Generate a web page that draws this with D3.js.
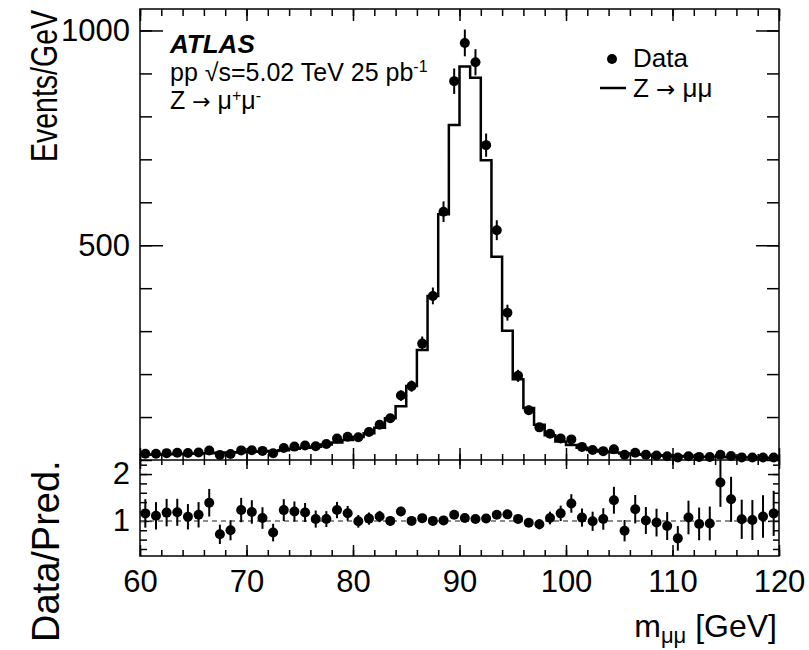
<!DOCTYPE html>
<html>
<head>
<meta charset="utf-8">
<script src="https://cdn.jsdelivr.net/npm/d3@7"></script>
<style>
  body { margin: 0; background: #fff; }
  svg text { font-family: "Liberation Sans", Arial, Helvetica, sans-serif; fill: #000; }
</style>
</head>
<body>
<svg width="809" height="650"></svg>
<script>
// bin centres of the 1 GeV mass bins
const binCenters = [
  60.5, 61.5, 62.5, 63.5, 64.5, 65.5, 66.5, 67.5, 68.5, 69.5,
  70.5, 71.5, 72.5, 73.5, 74.5, 75.5, 76.5, 77.5, 78.5, 79.5,
  80.5, 81.5, 82.5, 83.5, 84.5, 85.5, 86.5, 87.5, 88.5, 89.5,
  90.5, 91.5, 92.5, 93.5, 94.5, 95.5, 96.5, 97.5, 98.5, 99.5,
  100.5, 101.5, 102.5, 103.5, 104.5, 105.5, 106.5, 107.5, 108.5, 109.5,
  110.5, 111.5, 112.5, 113.5, 114.5, 115.5, 116.5, 117.5, 118.5, 119.5
];

// observed events / GeV
const dataValues = [
  14.5, 14.4, 16.0, 16.8, 16.1, 17.4, 22.2, 11.9, 13.9, 22.4,
  22.6, 21.2, 15.9, 27.8, 31.2, 33.6, 32.2, 37.4, 50, 54,
  53, 65, 82, 97, 150, 172, 271, 382, 578, 882,
  971, 926, 733, 535, 343, 196, 116, 76, 61, 49.9,
  48, 30.5, 23.3, 20.6, 25.2, 12.1, 17, 12.3, 10.6, 8.9,
  5.7, 8.9, 7.2, 6.8, 12.2, 9.2, 6.1, 5.7, 5.8, 5.8
];

// Z -> mumu prediction, events / GeV
const predValues = [
  12.5, 13.0, 13.6, 14.2, 14.8, 15.4, 16.0, 16.7, 17.4, 18.2,
  19.0, 20.0, 21.2, 22.6, 26, 28.5, 31, 36, 40.6, 46.5,
  53.5, 62, 75, 97, 125, 172, 256, 382, 572, 780,
  916, 890, 698, 473, 301, 188, 121, 82, 57.5, 43,
  35, 28.5, 23.5, 19.8, 17.5, 15.3, 13.6, 12.2, 11, 10,
  9.1, 8.3, 7.7, 7.2, 6.7, 6.3, 5.9, 5.6, 5.3, 5.0
];

const xMajorTicks = [60, 70, 80, 90, 100, 110, 120];
const yMainMajorTicks = [500, 1000];
const yRatioMajorTicks = [1, 2];

const svg = d3.select('svg');

const frame = { left: 140, right: 779, top: 9, split: 460, bottom: 556 };
const binWidth = 1;
const arrowFont = '"DejaVu Sans", sans-serif';

const bins = binCenters.map((c, i) => ({
  x: c,
  lo: c - binWidth / 2,
  hi: c + binWidth / 2,
  data: dataValues[i],
  pred: predValues[i],
  err: Math.sqrt(dataValues[i]),
  ratio: dataValues[i] / predValues[i],
  ratioErr: Math.sqrt(dataValues[i]) / predValues[i]
}));

const xScale = d3.scaleLinear().domain([60, 120]).range([frame.left, frame.right]);
const yMain = d3.scaleLinear().domain([0, 1050]).range([frame.split, frame.top]);
const yRatio = d3.scaleLinear().domain([0.25, 2.3]).range([frame.bottom, frame.split]);

const minorX = d3.range(60, 120.01, 2);
const minorYMain = d3.range(0, 1050, 100);
const minorYRatio = d3.range(0.4, 2.3, 0.2);

// clip paths
const defs = svg.append('defs');
defs.append('clipPath').attr('id', 'clipMain').append('rect')
  .attr('x', frame.left).attr('y', frame.top)
  .attr('width', frame.right - frame.left).attr('height', frame.split - frame.top);
defs.append('clipPath').attr('id', 'clipRatio').append('rect')
  .attr('x', frame.left).attr('y', frame.split)
  .attr('width', frame.right - frame.left).attr('height', frame.bottom - frame.split);

const tickStyle = g => {
  g.select('.domain').remove();
  g.selectAll('.tick line').attr('stroke', '#000').attr('stroke-width', 1.5);
  g.selectAll('.tick text').style('font-size', '31px').attr('fill', '#000');
};

const addAxis = (axis, tx, ty) => svg.append('g')
  .attr('transform', `translate(${tx},${ty})`)
  .call(axis)
  .call(tickStyle);

// ---- axes: main panel ----
addAxis(d3.axisLeft(yMain).tickValues(minorYMain).tickSize(-12).tickFormat(''), frame.left, 0);
addAxis(d3.axisLeft(yMain).tickValues(yMainMajorTicks).tickSizeInner(-23).tickSizeOuter(0)
  .tickPadding(10).tickFormat(d3.format('d')), frame.left, 0);
addAxis(d3.axisRight(yMain).tickValues(minorYMain).tickSize(-12).tickFormat(''), frame.right, 0);
addAxis(d3.axisRight(yMain).tickValues(yMainMajorTicks).tickSize(-23).tickFormat(''), frame.right, 0);
addAxis(d3.axisTop(xScale).tickValues(minorX).tickSize(-7).tickFormat(''), 0, frame.top);
addAxis(d3.axisTop(xScale).tickValues(xMajorTicks).tickSize(-12).tickFormat(''), 0, frame.top);
addAxis(d3.axisBottom(xScale).tickValues(minorX).tickSize(-6).tickFormat(''), 0, frame.split);
addAxis(d3.axisBottom(xScale).tickValues(xMajorTicks).tickSize(-12).tickFormat(''), 0, frame.split);

// ---- axes: ratio panel ----
addAxis(d3.axisTop(xScale).tickValues(minorX).tickSize(-5).tickFormat(''), 0, frame.split);
addAxis(d3.axisTop(xScale).tickValues(xMajorTicks).tickSize(-9).tickFormat(''), 0, frame.split);
addAxis(d3.axisBottom(xScale).tickValues(minorX).tickSize(-6).tickFormat(''), 0, frame.bottom);
addAxis(d3.axisBottom(xScale).tickValues(xMajorTicks).tickSizeInner(-11).tickSizeOuter(0)
  .tickPadding(14).tickFormat(d3.format('d')), 0, frame.bottom);
addAxis(d3.axisLeft(yRatio).tickValues(minorYRatio).tickSize(-7).tickFormat(''), frame.left, 0);
addAxis(d3.axisLeft(yRatio).tickValues(yRatioMajorTicks).tickSizeInner(-12).tickSizeOuter(0)
  .tickPadding(10).tickFormat(d3.format('d')), frame.left, 0);
addAxis(d3.axisRight(yRatio).tickValues(minorYRatio).tickSize(-6).tickFormat(''), frame.right, 0);
addAxis(d3.axisRight(yRatio).tickValues(yRatioMajorTicks).tickSize(-11).tickFormat(''), frame.right, 0);

// ---- main panel content ----
const mainG = svg.append('g').attr('clip-path', 'url(#clipMain)');

const stepPoints = bins.map(b => [b.lo, b.pred]).concat([[bins[bins.length - 1].hi, bins[bins.length - 1].pred]]);
const stepLine = d3.line()
  .x(d => xScale(d[0]))
  .y(d => yMain(d[1]))
  .curve(d3.curveStepAfter);

mainG.append('path')
  .attr('d', stepLine(stepPoints))
  .attr('fill', 'none')
  .attr('stroke', '#000')
  .attr('stroke-width', 2.5);

mainG.selectAll('line.err').data(bins).join('line')
  .attr('class', 'err')
  .attr('x1', d => xScale(d.x)).attr('x2', d => xScale(d.x))
  .attr('y1', d => yMain(d.data - d.err)).attr('y2', d => yMain(d.data + d.err))
  .attr('stroke', '#000').attr('stroke-width', 2);

svg.append('g').selectAll('circle').data(bins).join('circle')
  .attr('cx', d => xScale(d.x))
  .attr('cy', d => yMain(d.data))
  .attr('r', 5)
  .attr('fill', '#000');

// ---- ratio panel content ----
const ratioG = svg.append('g').attr('clip-path', 'url(#clipRatio)');

ratioG.append('line')
  .attr('x1', frame.left).attr('x2', frame.right)
  .attr('y1', yRatio(1)).attr('y2', yRatio(1))
  .attr('stroke', '#666').attr('stroke-width', 1.5)
  .attr('stroke-dasharray', '5,4');

ratioG.selectAll('line.rerr').data(bins).join('line')
  .attr('class', 'rerr')
  .attr('x1', d => xScale(d.x)).attr('x2', d => xScale(d.x))
  .attr('y1', d => yRatio(d.ratio - d.ratioErr)).attr('y2', d => yRatio(d.ratio + d.ratioErr))
  .attr('stroke', '#000').attr('stroke-width', 2);

ratioG.selectAll('circle').data(bins).join('circle')
  .attr('cx', d => xScale(d.x))
  .attr('cy', d => yRatio(d.ratio))
  .attr('r', 5)
  .attr('fill', '#000');

// ---- frames ----
svg.append('rect')
  .attr('x', frame.left).attr('y', frame.top)
  .attr('width', frame.right - frame.left).attr('height', frame.bottom - frame.top)
  .attr('fill', 'none').attr('stroke', '#000').attr('stroke-width', 1.5);
svg.append('line')
  .attr('x1', frame.left).attr('x2', frame.right)
  .attr('y1', frame.split).attr('y2', frame.split)
  .attr('stroke', '#000').attr('stroke-width', 1.5);

// ---- axis titles ----
svg.append('text')
  .attr('transform', `translate(57, 162) rotate(-90) scale(0.77, 1)`)
  .attr('text-anchor', 'start')
  .style('font-size', '37px')
  .text('Events/GeV');

svg.append('text')
  .attr('transform', `translate(59, 642) rotate(-90)`)
  .attr('text-anchor', 'start')
  .style('font-size', '38px')
  .text('Data/Pred.');

const xTitle = svg.append('text')
  .attr('x', frame.right - 2).attr('y', 637)
  .attr('text-anchor', 'end')
  .style('font-size', '32px');
xTitle.append('tspan').text('m');
xTitle.append('tspan').attr('dy', 6).style('font-size', '22px').text('μμ');
xTitle.append('tspan').attr('dy', -6).text(' [GeV]');

// ---- labels ----
svg.append('text')
  .attr('x', 170).attr('y', 53)
  .style('font-size', '26px').style('font-weight', 'bold').style('font-style', 'italic')
  .text('ATLAS');

const line2 = svg.append('text').attr('x', 170).attr('y', 81).style('font-size', '25px');
line2.append('tspan').text('pp √s=5.02 TeV 25 pb');
line2.append('tspan').attr('dy', -9).style('font-size', '16px').text('-1');

const line3 = svg.append('text').attr('x', 170).attr('y', 109).style('font-size', '25px');
line3.append('tspan').text('Z ');
line3.append('tspan').style('font-family', arrowFont).style('font-size', '22px').text('→');
line3.append('tspan').text(' μ');
line3.append('tspan').attr('dy', -8).style('font-size', '16px').text('+');
line3.append('tspan').attr('dy', 8).text('μ');
line3.append('tspan').attr('dy', -8).style('font-size', '16px').text('-');

// ---- legend ----
const legend = svg.append('g');
legend.append('circle').attr('cx', 612).attr('cy', 59).attr('r', 5).attr('fill', '#000');
legend.append('text').attr('x', 633).attr('y', 67).style('font-size', '26px').text('Data');
legend.append('line').attr('x1', 600).attr('x2', 626).attr('y1', 88).attr('y2', 88)
  .attr('stroke', '#000').attr('stroke-width', 2.5);
const zLeg = legend.append('text').attr('x', 633).attr('y', 97).style('font-size', '26px');
zLeg.append('tspan').text('Z ');
zLeg.append('tspan').style('font-family', arrowFont).style('font-size', '23px').text('→');
zLeg.append('tspan').text(' μμ');
</script>
</body>
</html>
